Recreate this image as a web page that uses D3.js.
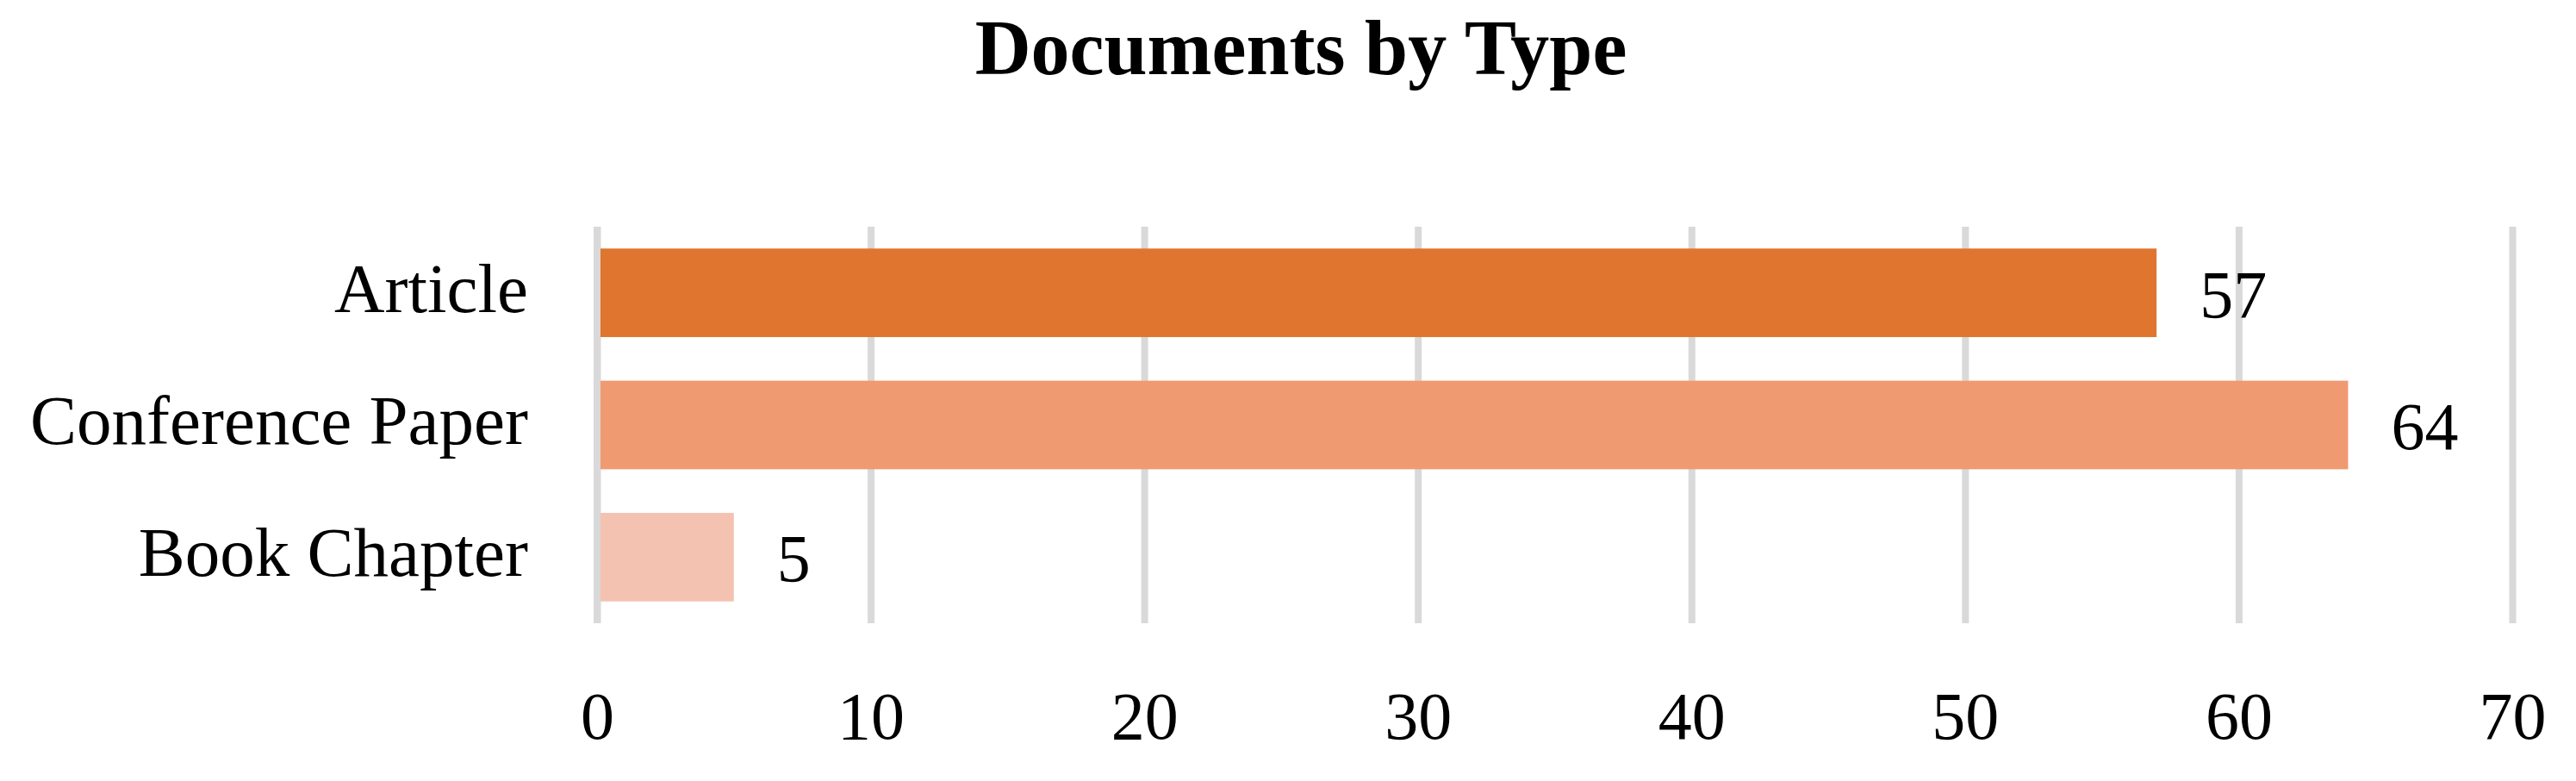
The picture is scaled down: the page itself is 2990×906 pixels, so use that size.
<!DOCTYPE html>
<html>
<head>
<meta charset="utf-8">
<script src="https://cdn.jsdelivr.net/npm/d3@7"></script>
<style>
  html, body { margin: 0; padding: 0; background: #fff; }
  text { font-family: "Liberation Serif", "Times New Roman", serif; fill: #000; }
</style>
</head>
<body>
<div id="chart"></div>
<script>
// data
var categories = ["Article", "Conference Paper", "Book Chapter"];
var counts = [57, 64, 5];
var barColors = ["#df752f", "#f09a72", "#f4c2b1"];
var tickValues = [0, 10, 20, 30, 40, 50, 60, 70];
var chartTitle = "Documents by Type";

(function() {
    var width = 2990,
        height = 906;

    var plotTop = 263,
        plotBottom = 723,
        plotLeft = 693,
        plotRight = 2916;

    var svg = d3.select("#chart")
        .append("svg")
        .attr("width", width)
        .attr("height", height);

    var x = d3.scaleLinear().domain([0, 70]).range([plotLeft, plotRight]);

    var y = d3.scaleBand()
        .domain(categories)
        .range([plotTop, plotBottom])
        .paddingInner(0.33)
        .paddingOuter(0.165);

    var rows = categories.map(function(c, i) {
        return { name: c, value: counts[i], color: barColors[i] };
    });

    // title
    svg.append("text")
        .attr("x", 1510)
        .attr("y", 86)
        .attr("text-anchor", "middle")
        .style("font-size", "90px")
        .style("font-weight", "bold")
        .text(chartTitle);

    // vertical gridlines
    var grid = svg.append("g")
        .attr("transform", "translate(0," + plotBottom + ")")
        .call(d3.axisBottom(x).tickValues(tickValues).tickSize(-(plotBottom - plotTop)).tickFormat(""));
    grid.select(".domain").remove();
    grid.selectAll("line").attr("stroke", "#d9d9d9").attr("stroke-width", 8);

    // bars
    svg.selectAll(".bar")
        .data(rows)
        .enter().append("rect")
        .attr("class", "bar")
        .attr("x", x(0))
        .attr("y", function(d) { return y(d.name); })
        .attr("width", function(d) { return x(d.value) - x(0); })
        .attr("height", y.bandwidth())
        .attr("fill", function(d) { return d.color; });

    // value axis line at zero sits over the bars
    svg.append("line")
        .attr("x1", x(0)).attr("x2", x(0))
        .attr("y1", plotTop).attr("y2", plotBottom)
        .attr("stroke", "#d9d9d9")
        .attr("stroke-width", 8);

    // data labels
    svg.selectAll(".val")
        .data(rows)
        .enter().append("text")
        .attr("class", "val")
        .attr("x", function(d) { return x(d.value) + 50; })
        .attr("y", function(d) { return y(d.name) + y.bandwidth() / 2 + 28; })
        .style("font-size", "78px")
        .text(function(d) { return d.value; });

    // category labels
    var yAxis = svg.append("g")
        .attr("transform", "translate(" + (plotLeft - 80) + ",0)")
        .call(d3.axisLeft(y).tickSize(0).tickPadding(0));
    yAxis.select(".domain").remove();
    yAxis.selectAll("text")
        .attr("x", 0)
        .attr("dy", null)
        .attr("y", 22)
        .style("font-size", "81px")
        .style("font-family", "'Liberation Serif', serif")
        .attr("fill", "#000");

    // tick labels
    var xAxis = svg.append("g")
        .attr("transform", "translate(0,857)")
        .call(d3.axisBottom(x).tickValues(tickValues).tickSize(0).tickPadding(0));
    xAxis.select(".domain").remove();
    xAxis.selectAll("text")
        .attr("y", 0)
        .attr("dy", null)
        .style("font-size", "78px")
        .style("font-family", "'Liberation Serif', serif")
        .attr("fill", "#000");
})();
</script>
</body>
</html>
